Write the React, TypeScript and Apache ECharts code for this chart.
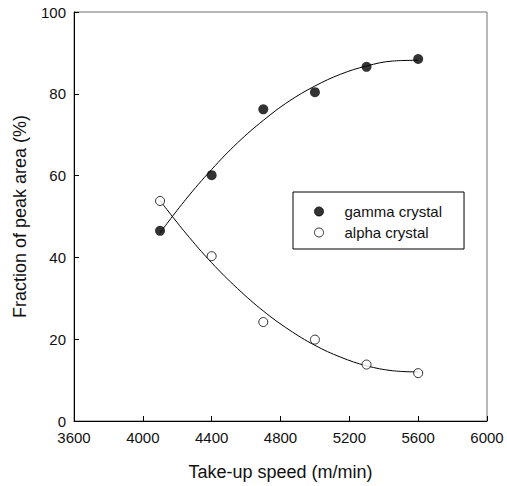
import React, { useEffect, useRef } from "react";
import * as echarts from "echarts";

// Measured data points
const speeds = [4100, 4400, 4700, 5000, 5300, 5600];
const gammaValues = [46.5, 60.1, 76.2, 80.4, 86.6, 88.5];
const alphaValues = [53.8, 40.3, 24.2, 19.9, 13.8, 11.7];

// Fitted curves
const curveSpeeds = [4100, 4250, 4400, 4550, 4700, 4850, 5000, 5150, 5300, 5450, 5600];
const gammaCurve = [46.0, 54.2, 61.5, 68.0, 73.5, 78.2, 81.9, 84.8, 86.8, 88.0, 88.2];
const alphaCurve = [53.9, 45.9, 38.7, 32.4, 26.9, 22.3, 18.5, 15.6, 13.5, 12.3, 12.0];

// Axis ticks
const xTicks = [3600, 4000, 4400, 4800, 5200, 5600, 6000];
const yTicks = [0, 20, 40, 60, 80, 100];

const seriesNames = ["gamma crystal", "alpha crystal"];
const xTitle = "Take-up speed (m/min)";
const yTitle = "Fraction of peak area (%)";

const FONT = "'Liberation Sans', Arial, Helvetica, sans-serif";

export default function App() {
  const ref = useRef<HTMLDivElement>(null);

  useEffect(() => {
    if (!ref.current) return;
    const chart = echarts.init(ref.current, undefined, { renderer: "svg" });
    const pair = (xs: number[], ys: number[]) => xs.map((x, i) => [x, ys[i]]);
    chart.setOption({
      animation: false,
      backgroundColor: "#ffffff",
      textStyle: { fontFamily: FONT },
      grid: {
        left: 74,
        top: 12,
        right: 20,
        bottom: 62,
        show: true,
        borderColor: "#707070",
        borderWidth: 1,
        containLabel: false,
      },
      legend: {
        data: seriesNames,
        orient: "vertical",
        left: 293,
        top: 192,
        padding: [12, 22, 9, 21],
        borderColor: "#000",
        borderWidth: 1,
        borderRadius: 0,
        backgroundColor: "#fff",
        itemWidth: 9,
        itemHeight: 9,
        itemGap: 6,
        itemStyle: { borderWidth: 1 },
        textStyle: { fontSize: 15, color: "#111", fontFamily: FONT, lineHeight: 15, padding: [0, 0, 0, 16] },
      },
      xAxis: {
        type: "value",
        min: xTicks[0],
        max: xTicks[xTicks.length - 1],
        interval: xTicks[1] - xTicks[0],
        name: xTitle,
        nameLocation: "middle",
        nameGap: 42,
        nameTextStyle: { fontSize: 18, color: "#111", fontFamily: FONT },
        axisLine: { show: true, lineStyle: { color: "#000", width: 1 } },
        axisTick: { show: true, inside: true, length: 5, lineStyle: { color: "#000" } },
        axisLabel: { fontSize: 15, color: "#111", margin: 9, fontFamily: FONT, formatter: (v: number) => String(v) },
        splitLine: { show: false },
      },
      yAxis: {
        type: "value",
        min: yTicks[0],
        max: yTicks[yTicks.length - 1],
        interval: yTicks[1] - yTicks[0],
        name: yTitle,
        nameLocation: "middle",
        nameGap: 45,
        nameTextStyle: { fontSize: 18, color: "#111", fontFamily: FONT },
        axisLine: { show: true, lineStyle: { color: "#000", width: 1 } },
        axisTick: { show: true, inside: true, length: 5, lineStyle: { color: "#000" } },
        axisLabel: { fontSize: 15, color: "#111", margin: 8, fontFamily: FONT, formatter: (v: number) => String(v) },
        splitLine: { show: false },
      },
      series: [
        {
          name: "gamma fit",
          type: "line",
          data: pair(curveSpeeds, gammaCurve),
          smooth: 0.4,
          showSymbol: false,
          symbol: "none",
          lineStyle: { color: "#000", width: 1 },
          z: 2,
        },
        {
          name: "alpha fit",
          type: "line",
          data: pair(curveSpeeds, alphaCurve),
          smooth: 0.4,
          showSymbol: false,
          symbol: "none",
          lineStyle: { color: "#000", width: 1 },
          z: 2,
        },
        {
          name: seriesNames[0],
          type: "scatter",
          data: pair(speeds, gammaValues),
          symbol: "circle",
          symbolSize: 10,
          itemStyle: { color: "#000", borderColor: "#000", borderWidth: 0 },
          z: 3,
        },
        {
          name: seriesNames[1],
          type: "scatter",
          data: pair(speeds, alphaValues),
          symbol: "circle",
          symbolSize: 9,
          itemStyle: { color: "#fff", borderColor: "#000", borderWidth: 1 },
          z: 3,
        },
      ],
    });
    return () => chart.dispose();
  }, []);

  return (
    <div
      ref={ref}
      style={{ position: "fixed", left: 0, top: 0, width: 507, height: 486 }}
    />
  );
}
